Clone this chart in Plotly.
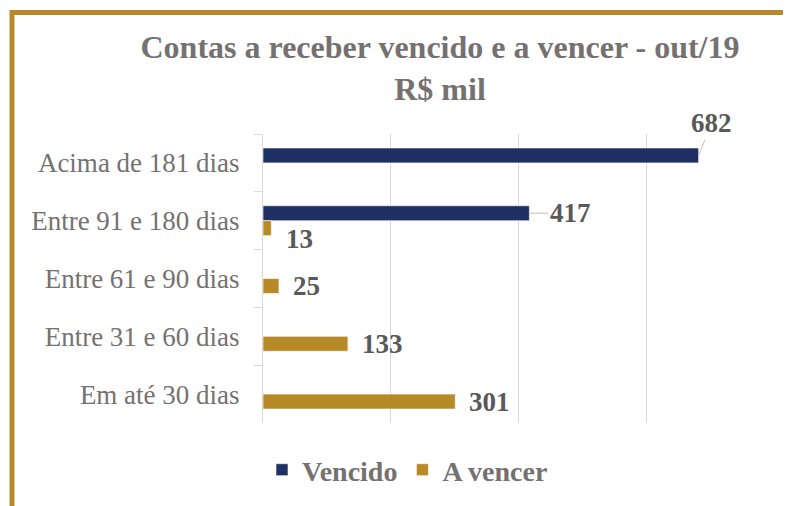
import plotly.graph_objects as go

# ---- data ----
categories = ["Acima de 181 dias", "Entre 91 e 180 dias", "Entre 61 e 90 dias",
              "Entre 31 e 60 dias", "Em até 30 dias"]
series_names = ["Vencido", "A vencer"]
vencido = [682, 417, None, None, None]
a_vencer = [None, 13, 25, 133, 301]
x_ticks = [0, 200, 400, 600, 800]

# ---- styles ----
SERIF = "Liberation Serif"
colors = {"Vencido": "#1F3064", "A vencer": "#B68A27"}
bar_offset_px = {"Vencido": 7.5, "A vencer": -7.5}
GOLD = "#B8892A"
GRID = "#D9D9D9"

# special label placements (pixel offsets) keyed by (series, category index)
label_place = {
    ("Vencido", 0): dict(showarrow=True, ax=13, ay=-32),
    ("Vencido", 1): dict(showarrow=True, ax=41, ay=0),
    ("A vencer", 1): dict(showarrow=False, xanchor="left", xshift=13, yshift=-18),
}

fig = go.Figure()
series_values = {"Vencido": vencido, "A vencer": a_vencer}
for name in series_names:
    fig.add_trace(go.Bar(
        y=categories, x=series_values[name], name=name, orientation="h",
        marker=dict(color=colors[name], line=dict(color="#FFFFFF", width=0.6)),
        hoverinfo="x+y",
    ))

annotations = []
for name in series_names:
    for i, v in enumerate(series_values[name]):
        if v is None:
            continue
        base = dict(x=v, y=categories[i], xref="x", yref="y", text=str(v),
                    font=dict(family=SERIF, size=27, color="#595959", weight="bold"),
                    yshift=bar_offset_px[name])
        spec = label_place.get((name, i))
        if spec is None:
            base.update(showarrow=False, xanchor="left", xshift=12)
        else:
            base.update(spec)
            if spec.get("showarrow"):
                base.update(arrowhead=0, arrowwidth=1, arrowcolor="#BFBFBF",
                            standoff=0, startstandoff=0)
        annotations.append(base)

# page has an 8px body margin: figure coords = screen coords - 8
OFF = 8
W, H = 791 - OFF, 506 - OFF
# plot area on screen: x 263..774, y 134..424
L, T = 263 - OFF, 134 - OFF
R = W - (774 - OFF)
B = H - (424 - OFF)
pw, ph = W - L - R, H - T - B

def px_x(p):
    return (p - OFF - L) / pw

def px_y(p):
    return (H - B - (p - OFF)) / ph

fig.update_layout(
    width=W, height=H,
    margin=dict(l=L, r=R, t=T, b=B),
    paper_bgcolor="white", plot_bgcolor="white",
    barmode="group", bargap=0.483, bargroupgap=0,
    title=dict(
        text="<b>Contas a receber vencido e a vencer - out/19<br>R$ mil</b>",
        font=dict(family=SERIF, size=32, color="#767171"),
        x=(440 - OFF) / W, xref="container", xanchor="center",
        y=1 - (58 - OFF) / H, yref="container", yanchor="middle",
    ),
    xaxis=dict(range=[0, 800], tickvals=x_ticks, showticklabels=False,
               showgrid=True, gridcolor=GRID, gridwidth=1,
               zeroline=False, showline=False, fixedrange=True),
    yaxis=dict(type="category", autorange="reversed", showline=True,
               linecolor=GRID, linewidth=1, ticks="outside", tickson="boundaries",
               ticklen=8, tickcolor=GRID, tickwidth=1, showgrid=False,
               tickfont=dict(family=SERIF, size=27, color="#767171"),
               ticklabelstandoff=17, fixedrange=True),
    legend=dict(orientation="h", x=px_x(262), xanchor="left",
                y=px_y(470), yanchor="middle",
                font=dict(family=SERIF, size=28, color="#767171", weight="bold"),
                traceorder="normal", itemwidth=30),
    annotations=annotations,
    shapes=[dict(type="rect", xref="paper", yref="paper",
                 x0=px_x(12), x1=px_x(900), y0=px_y(620), y1=px_y(12),
                 line=dict(color=GOLD, width=5), fillcolor="rgba(0,0,0,0)",
                 layer="above")],
    showlegend=True,
)

fig.write_html("out.html")
